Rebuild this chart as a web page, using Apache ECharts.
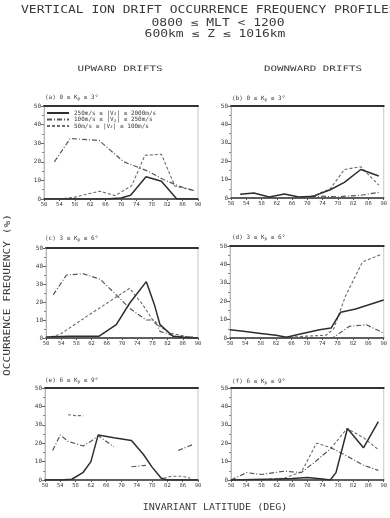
<!DOCTYPE html>
<html><head><meta charset="utf-8">
<script src="https://cdn.jsdelivr.net/npm/echarts@6/dist/echarts.min.js"></script>
<style>html,body{margin:0;padding:0;background:#fff}#c{width:390px;height:518px}</style>
</head><body><div id="c"></div><script>
// ---- texts ----
const titleLine1 = 'VERTICAL ION DRIFT OCCURRENCE FREQUENCY PROFILES';
const titleLine2 = '0800 ≤ MLT < 1200';
const titleLine3 = '600km ≤ Z ≤ 1016km';
const colTitles = ['UPWARD DRIFTS', 'DOWNWARD DRIFTS'];
const yTitle = 'OCCURRENCE FREQUENCY (%)';
const xTitle = 'INVARIANT LATITUDE (DEG)';
const panelTitles = ['(a) 0 ≤ Kp ≤ 3°', '(b) 0 ≤ Kp ≤ 3°', '(c) 3 ≤ Kp ≤ 6°', '(d) 3 ≤ Kp ≤ 6°', '(e) 6 ≤ Kp ≤ 9°', '(f) 6 ≤ Kp ≤ 9°'];
const seriesNames = ['250m/s ≤ |Vz| ≤ 2000m/s', '100m/s ≤ |Vz| ≤ 250m/s', '50m/s ≤ |Vz| ≤ 100m/s'];
const xTickLabels = [50, 54, 58, 62, 66, 70, 74, 78, 82, 86, 90];
const yTickLabels = [0, 10, 20, 30, 40, 50];

// ---- data: invariant latitude (deg) and occurrence frequency (%) ----
// (a) upward, 0<=Kp<=3
const aFastLat = [50, 54, 58, 62, 66, 70, 72.5, 76.5, 80.5, 84.5, 88, 90];
const aFastPct = [0, 0, 0, 0, 0, 0.5, 2, 12, 9.5, 0, 0, 0];
const aMidLat = [52.7, 56.8, 64.3, 70.7, 74.5, 77, 81, 85, 89];
const aMidPct = [20, 32.5, 31.5, 20, 17, 15, 10.5, 7, 4.5];
const aSlowLat = [50, 54, 58, 62, 64.5, 68.5, 72.8, 76.2, 80.5, 84, 89];
const aSlowPct = [0, 0, 1, 3, 4.2, 1.8, 7.2, 23.5, 24, 7, 4.5];
// (b) downward, 0<=Kp<=3
const bFastLat = [52.4, 56, 60, 64, 67.8, 71.6, 76, 79.7, 84, 88.7];
const bFastPct = [2, 2.7, 0.5, 2.2, 0.5, 1, 4.5, 8.5, 15.5, 12];
const bMidLat = [50, 60, 66, 70, 74, 78, 80, 84, 88.7];
const bMidPct = [0, 0, 0, 0.5, 1, 0.5, 1, 1.5, 3];
const bSlowLat = [50, 60, 66, 70, 72, 76, 79.7, 84, 88.7];
const bSlowPct = [0, 0, 0, 0.5, 1.5, 5, 15.5, 17, 7];
// (c) upward, 3<=Kp<=6
const cFastLat = [50, 56, 64, 68.5, 72, 76.4, 78.6, 80, 83.4, 88, 90];
const cFastPct = [0.5, 1, 1, 7.4, 19.3, 31.3, 18, 7.4, 1, 0, 0];
const cMidLat = [51.9, 55.4, 59.8, 64.2, 68.5, 72, 76.4, 78.6, 80, 84, 89];
const cMidPct = [24, 35, 35.7, 32.7, 24, 16.5, 10, 10, 3.7, 1, 0.4];
const cSlowLat = [50, 53.7, 60.7, 66, 72, 75.5, 78.6, 82.5, 88];
const cSlowPct = [0, 2, 12, 19.3, 27.6, 18.4, 8.3, 2.8, 0.4];
// (d) downward, 3<=Kp<=6
const dFastLat = [50, 54, 58, 62, 64.7, 68, 73.3, 76.3, 78.8, 82.7, 90];
const dFastPct = [4.5, 3.5, 2.5, 1.5, 0.4, 2, 4.5, 5.4, 14, 15.8, 20.7];
const dMidLat = [50, 60, 70, 76.7, 81, 85.5, 90];
const dMidPct = [0, 0, 0, 0, 6.3, 7.2, 2.7];
const dSlowLat = [50, 60, 66, 70, 75, 77, 80, 84.5, 89.2];
const dSlowPct = [0, 0, 0.5, 1, 1.5, 5, 22.5, 41.4, 45.3];
// (e) upward, 6<=Kp<=9 (null = gap)
const eFastLat = [50, 54, 57, 60, 62, 63.9, 68, 72.6, 75.7, 78, 80.4, 82, 90];
const eFastPct = [0, 0, 0.4, 4.2, 10, 24.5, 23, 21.5, 14, 7, 0.9, 0, 0];
const eMidLat = [52, 54, 56, 60, 62, 64, 68, 70, 72.6, 76.4, 80, 84.8, 88.7];
const eMidPct = [16, 24.5, 21, 18.5, 21, 24, 18, null, 7.2, 8, null, 16, 19.3];
const eSlowLat = [52, 54, 56, 58, 60, 70, 81, 83, 86, 88];
const eSlowPct = [28, null, 35.5, 35, 35, null, 1, 2, 2, 1];
// (f) downward, 6<=Kp<=9
const fFastLat = [50, 56, 62, 66, 70, 74, 76, 77.5, 80.5, 84.7, 88.6];
const fFastPct = [0, 0.3, 0.5, 0.8, 1.3, 0.5, 0, 4, 28, 17.5, 31.7];
const fMidLat = [50, 54.1, 58, 64, 68.4, 72.2, 76.3, 80.4, 84.7, 88.6];
const fMidPct = [0, 4, 3, 4.8, 4, 10.2, 17.4, 13, 8, 5.2];
const fSlowLat = [60, 64, 68.5, 72.4, 76.3, 80.4, 84.7, 88.6];
const fSlowPct = [0.5, 1, 4.5, 20, 17.5, 28, 23, 16.5];

const panelData = [
  [[aFastLat, aFastPct], [aMidLat, aMidPct], [aSlowLat, aSlowPct]],
  [[bFastLat, bFastPct], [bMidLat, bMidPct], [bSlowLat, bSlowPct]],
  [[cFastLat, cFastPct], [cMidLat, cMidPct], [cSlowLat, cSlowPct]],
  [[dFastLat, dFastPct], [dMidLat, dMidPct], [dSlowLat, dSlowPct]],
  [[eFastLat, eFastPct], [eMidLat, eMidPct], [eSlowLat, eSlowPct]],
  [[fFastLat, fFastPct], [fMidLat, fMidPct], [fSlowLat, fSlowPct]]
];

// ---- layout / style ----
const gridBoxes = [
  {left: 44, top: 106, width: 154, height: 93},
  {left: 231, top: 106, width: 156, height: 92},
  {left: 46, top: 248, width: 152, height: 90},
  {left: 230, top: 246, width: 155, height: 92},
  {left: 45, top: 388, width: 153, height: 92},
  {left: 231, top: 388, width: 155, height: 92}
];
const lineStyles = [
  {color: '#2e2e2e', width: 1.5, type: 'solid'},
  {color: '#555', width: 1.2, type: [5, 2, 1, 2]},
  {color: '#6a6a6a', width: 1.1, type: [3, 2]}
];
const ink = '#3a3a3a';
const mono = '"DejaVu Sans Mono", monospace';

const chart = echarts.init(document.getElementById('c'), null, {renderer: 'canvas'});

const grid = gridBoxes.map(g => Object.assign({show: true, borderColor: '#bbb', borderWidth: 0.8, containLabel: false}, g));
const xAxis = [];
const yAxis = [];
gridBoxes.forEach((g, i) => {
  xAxis.push({
    type: 'value', gridIndex: i, min: xTickLabels[0], max: xTickLabels[xTickLabels.length - 1], interval: 4,
    axisLine: {show: true, lineStyle: {color: '#333', width: 1.5}},
    axisTick: {show: true, length: 2, lineStyle: {color: '#555'}},
    axisLabel: {fontSize: 5.5, color: ink, margin: 3, fontFamily: mono},
    splitLine: {show: false}
  });
  yAxis.push({
    type: 'value', gridIndex: i, min: yTickLabels[0], max: yTickLabels[yTickLabels.length - 1], interval: 10,
    axisLine: {show: true, lineStyle: {color: '#aaa', width: 0.8}},
    axisTick: {show: true, length: 3, lineStyle: {color: '#666'}},
    minorTick: {show: true, splitNumber: 2, length: 2, lineStyle: {color: '#888'}},
    axisLabel: {fontSize: 6, color: ink, margin: 3, fontFamily: mono},
    splitLine: {show: false}
  });
});
gridBoxes.forEach((g, i) => {
  xAxis.push({
    type: 'value', gridIndex: i, position: 'top', min: 50, max: 90,
    axisLine: {show: true, lineStyle: {color: '#333', width: 2}},
    axisTick: {show: false}, axisLabel: {show: false}, splitLine: {show: false}
  });
});

const series = [];
panelData.forEach((panel, p) => {
  panel.forEach(([lats, pcts], s) => {
    series.push({
      type: 'line', name: seriesNames[s], xAxisIndex: p, yAxisIndex: p,
      data: lats.map((lat, k) => [lat, pcts[k] === null ? '-' : pcts[k]]),
      symbol: 'none', connectNulls: false, smooth: false,
      lineStyle: lineStyles[s], itemStyle: {color: lineStyles[s].color},
      silent: true, animation: false, z: 3 - s
    });
  });
});

const graphic = [
  {type: 'text', x: 21, y: 10, scaleX: 1.3, style: {text: titleLine1, font: '10px ' + mono, fill: ink, textAlign: 'left', textVerticalAlign: 'middle'}},
  {type: 'text', x: 218, y: 23, scaleX: 1.3, style: {text: titleLine2, font: '10px ' + mono, fill: ink, textAlign: 'center', textVerticalAlign: 'middle'}},
  {type: 'text', x: 215, y: 34, scaleX: 1.3, style: {text: titleLine3, font: '10px ' + mono, fill: ink, textAlign: 'center', textVerticalAlign: 'middle'}},
  {type: 'text', x: 120, y: 69, scaleX: 1.45, style: {text: colTitles[0], font: '7.5px ' + mono, fill: ink, textAlign: 'center', textVerticalAlign: 'middle'}},
  {type: 'text', x: 313, y: 69, scaleX: 1.45, style: {text: colTitles[1], font: '7.5px ' + mono, fill: ink, textAlign: 'center', textVerticalAlign: 'middle'}},
  {type: 'text', x: 215, y: 508, scaleX: 1.25, style: {text: xTitle, font: '8px ' + mono, fill: ink, textAlign: 'center', textVerticalAlign: 'middle'}},
  {type: 'text', x: 8, y: 295, rotation: Math.PI / 2, scaleX: 1.4, style: {text: yTitle, font: '8px ' + mono, fill: ink, textAlign: 'center', textVerticalAlign: 'middle'}}
];
const titlePos = [[45, 97], [232, 98], [45, 238], [232, 237], [45, 380], [232, 381]];
panelTitles.forEach((t, i) => {
  graphic.push({type: 'text', x: titlePos[i][0], y: titlePos[i][1],
    style: {text: t.replace('Kp', 'K{s|p}'), font: '6px ' + mono, fill: ink, textAlign: 'left', textVerticalAlign: 'middle',
      rich: {s: {fontSize: 4.5, fontFamily: mono, fill: ink, padding: [3, 0, 0, 0]}}}});
});

chart.setOption({
  backgroundColor: '#fff',
  animation: false,
  grid, xAxis, yAxis, series, graphic,
  legend: {
    data: seriesNames, orient: 'vertical', left: 46, top: 110, itemGap: 0, itemWidth: 22, itemHeight: 5,
    padding: 0, selectedMode: false,
    itemStyle: {opacity: 0},
    formatter: n => n.replace('|Vz|', '|V{s|z}|'),
    textStyle: {fontSize: 6, color: ink, fontFamily: mono, lineHeight: 6,
      rich: {s: {fontSize: 4.5, fontFamily: mono, color: ink, padding: [2, 0, 0, 0]}}}
  }
});
</script></body></html>
